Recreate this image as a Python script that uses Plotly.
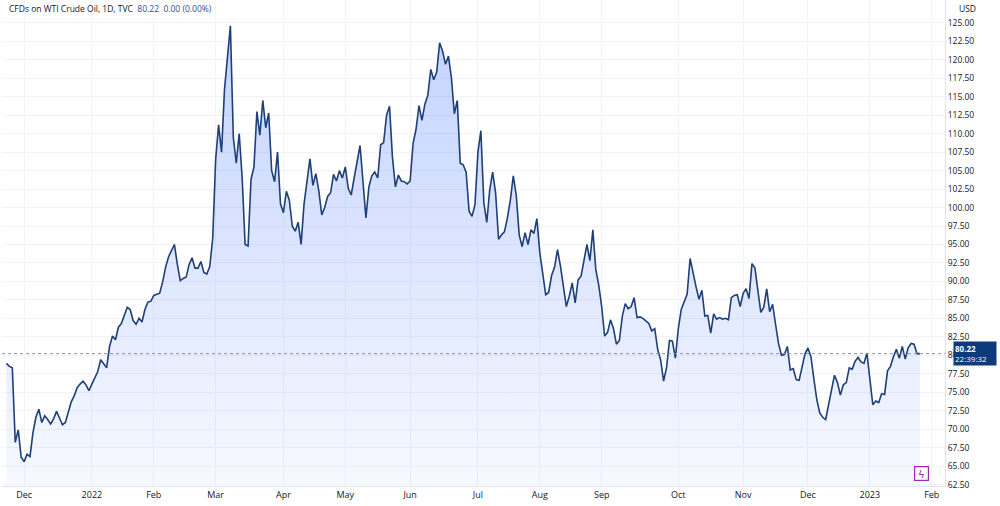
import plotly.graph_objects as go

# WTI CFD daily closes, grouped by month
nov21 = [78.9, 78.5, 78.3, 68.2, 69.9, 66.2]
dec21 = [65.6, 66.6, 66.3, 69.5, 71.6, 72.7, 70.9, 71.8, 71.3, 70.7, 71.4, 72.4, 71.5,
         70.6, 70.9, 72.4, 73.7, 74.5, 75.6, 76.1, 76.5, 76.0, 75.2]
jan22 = [76.1, 77.0, 77.8, 79.4, 78.9, 78.3, 81.2, 82.6, 82.1, 83.8, 84.3, 85.4, 86.5,
         86.2, 84.7, 84.2, 85.0, 84.5, 86.2, 87.2, 87.3]
feb22 = [88.1, 88.2, 88.4, 89.9, 91.9, 93.3, 94.2, 95.0, 92.3, 90.1, 90.4, 90.6, 92.3,
         93.2, 91.8, 91.8, 92.7, 91.2, 91.0, 92.0, 95.8]
mar22 = [106.5, 111.2, 107.5, 116.0, 120.0, 124.6, 109.5, 106.0, 110.0, 104.0, 95.0,
         94.8, 103.8, 105.5, 113.0, 109.8, 114.5, 110.8, 112.8, 105.0, 103.5, 107.5, 100.5]
apr22 = [99.3, 102.2, 101.0, 97.5, 96.8, 98.0, 95.0, 100.5, 103.8, 106.6, 103.0, 104.6,
         102.3, 99.0, 100.0, 101.5, 102.0, 104.5, 103.6, 105.0, 104.0]
may22 = [105.5, 102.6, 101.7, 104.0, 106.2, 108.4, 103.5, 98.6, 102.8, 104.3, 104.8,
         104.0, 108.5, 108.8, 112.5, 113.7, 106.8, 102.8, 104.4, 103.6, 103.5, 103.2]
jun22 = [103.6, 108.7, 110.6, 113.8, 111.8, 114.0, 115.2, 118.7, 117.3, 118.3, 122.3,
         121.2, 119.4, 120.5, 117.6, 112.7, 114.5, 106.0, 105.8, 104.8, 99.5, 98.8, 100.4]
jul22 = [107.5, 110.4, 100.7, 98.0, 102.4, 104.8, 102.0, 95.7, 96.3, 96.7, 98.6, 101.0,
         104.3, 101.7, 96.3, 94.7, 96.6, 95.0, 97.0, 96.5, 98.5]
aug22 = [93.9, 90.8, 88.2, 88.5, 90.8, 91.9, 94.3, 92.1, 89.4, 86.6, 88.0,
         89.8, 87.1, 90.2, 90.7, 93.0, 95.0, 92.8, 97.0, 91.6, 89.5]
sep22 = [86.6, 82.6, 83.1, 84.8, 83.6, 81.5, 82.0, 85.3, 87.0, 86.3, 86.6, 87.8, 85.1,
         85.2, 85.0, 84.6, 84.3, 83.3, 83.6, 80.8, 79.4, 76.5, 78.3, 82.0, 81.9, 79.6]
oct22 = [83.6, 86.2, 87.3, 88.3, 93.1, 91.0, 89.3, 87.6, 88.8, 85.3, 85.4, 83.0, 85.6,
         84.9, 85.1, 84.9, 85.0, 84.8, 87.8, 88.1, 88.2, 86.6]
nov22 = [88.4, 89.0, 87.7, 92.4, 91.8, 88.8, 85.8, 86.5, 89.0, 85.9, 86.9, 84.2, 81.6,
         80.0, 80.1, 81.2, 78.0, 78.2, 76.7, 76.6, 78.4, 80.2]
dec22 = [81.0, 79.8, 76.8, 74.0, 72.2, 71.6, 71.3, 73.2, 75.4, 77.3, 76.3, 74.6, 76.0,
         76.3, 78.3, 78.1, 79.2, 79.7, 79.1, 78.9, 80.3]
jan23 = [76.9, 73.3, 73.8, 73.6, 74.8, 74.7, 77.9, 78.5, 79.8, 80.8, 79.6, 81.2, 79.5,
         81.0, 81.6, 81.5, 80.2, 80.22]

months = [nov21, dec21, jan22, feb22, mar22, apr22, may22, jun22, jul22, aug22,
          sep22, oct22, nov22, dec22, jan23]
month_labels = ['', 'Dec', '2022', 'Feb', 'Mar', 'Apr', 'May', 'Jun', 'Jul', 'Aug',
                'Sep', 'Oct', 'Nov', 'Dec', '2023']

price = []
tick_idx = []
for m in months:
    tick_idx.append(len(price))
    price.extend(m)
tick_idx = tick_idx[1:] + [len(price) + 3]
tick_text = month_labels[1:] + ['Feb']
idx = list(range(len(price)))
last = price[-1]

fig = go.Figure()
fig.add_trace(go.Scatter(x=idx, y=[62.5] * len(idx), mode='lines',
                         line=dict(width=0), hoverinfo='skip', showlegend=False))
fig.add_trace(go.Scatter(
    x=idx, y=price, mode='lines', fill='tonexty',
    line=dict(color='#1e3f78', width=1.6),
    fillgradient=dict(type='vertical', start=62.5, stop=125,
                      colorscale=[[0, 'rgba(41,98,255,0.04)'], [1, 'rgba(41,98,255,0.28)']]),
    showlegend=False,
))

fig.add_hline(y=last, line=dict(color='#8a8f9c', width=1, dash='dot'))

yticks = [62.5 + 2.5 * i for i in range(26)]
fig.update_layout(
    width=1000, height=506,
    margin=dict(l=2, r=55, t=0, b=20),
    plot_bgcolor='white', paper_bgcolor='white',
    font=dict(family='Open Sans, sans-serif', size=9, color='#131722'),
    xaxis=dict(range=[-1.5, len(price) + 7.5], tickvals=tick_idx, ticktext=tick_text,
               showgrid=True, gridcolor='#f0f3fa', zeroline=False, ticks='',
               showline=True, linecolor='#e0e3eb', tickfont=dict(size=9)),
    yaxis=dict(range=[62.3, 128.1], side='right', tickvals=yticks,
               ticktext=[f'{v:.2f}' for v in yticks], showgrid=True,
               gridcolor='#f0f3fa', zeroline=False, showline=True, linecolor='#e0e3eb',
               tickfont=dict(size=8.5)),
)

fig.add_annotation(xref='paper', yref='paper', x=0.005, y=0.998, xanchor='left',
                   yanchor='top', showarrow=False,
                   text="<span style='color:#131722'>CFDs on WTI Crude Oil, 1D, TVC</span>"
                        "  <span style='color:#2a4f9a'>80.22  0.00 (0.00%)</span>",
                   font=dict(size=8.5))
fig.add_annotation(xref='paper', yref='paper', x=1.0, y=0.998, xanchor='left',
                   yanchor='top', showarrow=False, text='USD', xshift=12,
                   font=dict(size=8.5))
fig.add_annotation(xref='paper', yref='y', x=1.0, y=last, xanchor='left', yanchor='middle',
                   showarrow=False, xshift=8, align='left', width=40,
                   text=f'<b>{last:.2f}</b><br>22:39:32', bgcolor='#0d3a7a',
                   font=dict(size=8, color='white'), borderpad=1)
fig.add_annotation(x=len(price) - 0.5, y=64.0, showarrow=False, text='ϟ',
                   font=dict(size=10, color='#9c27b0'), width=13, height=13,
                   bordercolor='#9c27b0', borderwidth=1.2, borderpad=0, bgcolor='white')

fig.write_html('out.html', config={'displayModeBar': False},
               post_script="document.body.style.margin='0';")
